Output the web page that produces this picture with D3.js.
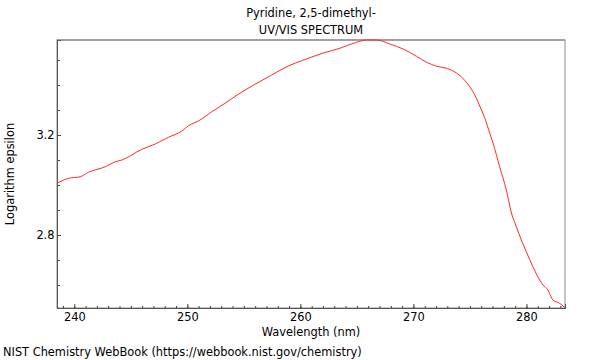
<!DOCTYPE html>
<html>
<head>
<meta charset="utf-8">
<script src="https://cdn.jsdelivr.net/npm/d3@7"></script>
<style>
  body { margin: 0; background: #fff; }
  svg { display: block; font-family: "DejaVu Sans", sans-serif; }
</style>
</head>
<body>
<svg id="chart" width="600" height="360"></svg>
<script>
const titleLines = ["Pyridine, 2,5-dimethyl-", "UV/VIS SPECTRUM"];
const xLabel = "Wavelength (nm)";
const yLabel = "Logarithm epsilon";
const footer = "NIST Chemistry WebBook (https://webbook.nist.gov/chemistry)";

const wavelength = [238.47, 239.50, 240.53, 241.26, 242.74, 243.62, 244.21, 245.98, 247.16, 248.33,
  249.52, 250.10, 250.98, 252.16, 253.34, 254.51, 255.99, 257.46, 258.93, 260.11,
  261.00, 262.02, 263.50, 264.97, 265.86, 266.74, 267.92, 269.09, 270.27, 271.16,
  272.04, 272.92, 273.81, 274.69, 275.27, 276.02, 276.31, 276.75, 277.04, 277.63,
  278.22, 278.67, 279.11, 279.55, 279.99, 280.57, 281.17, 281.46, 281.90, 282.34,
  282.93, 283.37];
const logEpsilon = [3.007, 3.027, 3.033, 3.051, 3.073, 3.093, 3.100, 3.143, 3.164, 3.191,
  3.216, 3.237, 3.256, 3.293, 3.327, 3.363, 3.403, 3.440, 3.476, 3.497,
  3.512, 3.528, 3.547, 3.571, 3.580, 3.580, 3.564, 3.544, 3.515, 3.491,
  3.475, 3.467, 3.448, 3.411, 3.373, 3.300, 3.268, 3.208, 3.168, 3.073,
  2.980, 2.888, 2.833, 2.780, 2.733, 2.673, 2.620, 2.600, 2.580, 2.540,
  2.527, 2.511];

const xMajorTicks = [240, 250, 260, 270, 280];
const xMinorTicks = d3.range(239, 284, 1);
const yMajorTicks = [2.8, 3.2];
const yMinorTicks = [2.6, 2.7, 2.9, 3.0, 3.1, 3.3, 3.4, 3.5];

const W = 600, H = 360;
const m = { left: 57, right: 35, top: 40, bottom: 52 };
const iw = W - m.left - m.right, ih = H - m.top - m.bottom;
const FS = 11.4;

const svg = d3.select("#chart");
const g = svg.append("g").attr("transform", `translate(${m.left},${m.top})`);

const x = d3.scaleLinear().domain([238.47, 283.41]).range([0, iw]);
const y = d3.scaleLinear().domain([2.508, 3.58]).range([ih, 0]);

// frame
g.append("rect").attr("x", 0).attr("y", 0).attr("width", iw).attr("height", ih)
  .attr("fill", "none").attr("stroke", "#8a8a8a").attr("stroke-width", 1);
g.append("line").attr("x1", 0).attr("x2", iw).attr("y1", 0).attr("y2", 0)
  .attr("stroke", "#a0a0a0").attr("stroke-width", 2);

// x axis
const xMinor = g.append("g").attr("transform", `translate(0,${ih})`)
  .call(d3.axisBottom(x).tickValues(xMinorTicks).tickSize(-2).tickFormat(""));
const xMajor = g.append("g").attr("transform", `translate(0,${ih})`)
  .call(d3.axisBottom(x).tickValues(xMajorTicks).tickSize(-4).tickPadding(5).tickFormat(d3.format("d")));
// y axis
const yMinor = g.append("g")
  .call(d3.axisLeft(y).tickValues(yMinorTicks).tickSize(-3).tickFormat(""));
const yMajor = g.append("g")
  .call(d3.axisLeft(y).tickValues(yMajorTicks).tickSize(-4).tickPadding(2.5).tickFormat(d3.format(".1f")));

[xMinor, xMajor, yMinor, yMajor].forEach(a => {
  a.select(".domain").attr("stroke", "#555");
  a.selectAll(".tick line").attr("stroke", "#444");
  a.selectAll("text").attr("font-family", "DejaVu Sans").attr("font-size", FS).attr("fill", "#000");
});

// curve
const pts = wavelength.map((w, i) => [w, logEpsilon[i]]);
g.append("path").datum(pts)
  .attr("fill", "none").attr("stroke", "#ff2a2a").attr("stroke-width", 1)
  .attr("d", d3.line().x(d => x(d[0])).y(d => y(d[1])).curve(d3.curveMonotoneX));

// texts
svg.append("text").attr("x", m.left + iw / 2).attr("y", 17).attr("text-anchor", "middle")
  .attr("font-size", FS).text(titleLines[0]);
svg.append("text").attr("x", m.left + iw / 2).attr("y", 34).attr("text-anchor", "middle")
  .attr("font-size", FS).text(titleLines[1]);
svg.append("text").attr("x", m.left + iw / 2).attr("y", 336).attr("text-anchor", "middle")
  .attr("font-size", FS).text(xLabel);
svg.append("text").attr("transform", `translate(14,${m.top + ih / 2}) rotate(-90)`)
  .attr("text-anchor", "middle").attr("font-size", FS).text(yLabel);
svg.append("text").attr("x", 3).attr("y", 356).attr("font-size", FS).text(footer);
</script>
</body>
</html>
